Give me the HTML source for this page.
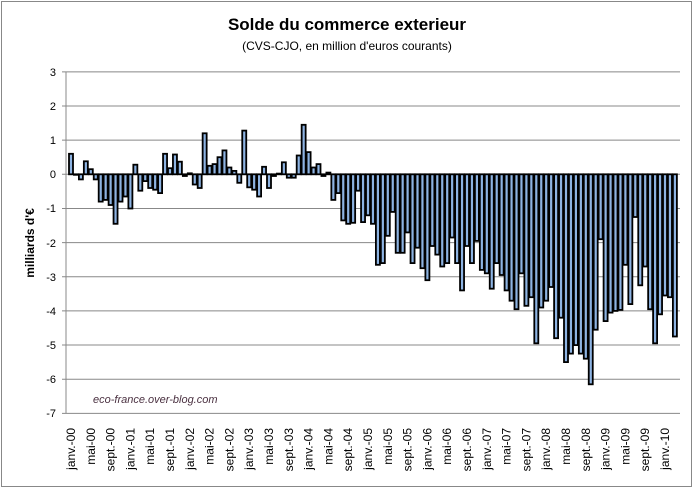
<!DOCTYPE html>
<html><head><meta charset="utf-8"><style>body{margin:0;background:#fff}svg{display:block}</style></head><body>
<svg width="694" height="489" xmlns="http://www.w3.org/2000/svg" font-family="Liberation Sans, sans-serif">
<rect x="1.5" y="1.5" width="690" height="485" fill="#fff" stroke="#888" stroke-width="1"/>
<text x="347" y="30" text-anchor="middle" font-size="17" font-weight="bold">Solde du commerce exterieur</text>
<text x="347" y="50" text-anchor="middle" font-size="12">(CVS-CJO, en million d'euros courants)</text>
<text transform="translate(34,243) rotate(-90)" text-anchor="middle" font-size="12" font-weight="bold">milliards d'€</text>
<g stroke="#888" stroke-width="1">
<line x1="62" x2="680" y1="71.85" y2="71.85"/><line x1="62" x2="680" y1="106" y2="106"/><line x1="62" x2="680" y1="140.15" y2="140.15"/><line x1="62" x2="680" y1="174.3" y2="174.3"/><line x1="62" x2="680" y1="208.45" y2="208.45"/><line x1="62" x2="680" y1="242.6" y2="242.6"/><line x1="62" x2="680" y1="276.75" y2="276.75"/><line x1="62" x2="680" y1="310.9" y2="310.9"/><line x1="62" x2="680" y1="345.05" y2="345.05"/><line x1="62" x2="680" y1="379.2" y2="379.2"/><line x1="62" x2="680" y1="413.35" y2="413.35"/>
<line x1="66" x2="66" y1="71.85" y2="413.35"/>
</g>
<g font-size="11" text-anchor="end">
<text x="56" y="76">3</text><text x="56" y="110">2</text><text x="56" y="144">1</text><text x="56" y="178">0</text><text x="56" y="212">-1</text><text x="56" y="247">-2</text><text x="56" y="281">-3</text><text x="56" y="315">-4</text><text x="56" y="349">-5</text><text x="56" y="383">-6</text><text x="56" y="417">-7</text>
</g>
<g fill="#8db3e2" stroke="#000" stroke-width="1.8">
<rect x="69" y="153.8" width="4" height="20.5"/>
<rect x="73.95" y="174.3" width="4" height="0.5"/>
<rect x="78.9" y="174.3" width="4" height="5.1"/>
<rect x="83.85" y="161.3" width="4" height="13"/>
<rect x="88.8" y="169.2" width="4" height="5.1"/>
<rect x="93.75" y="174.3" width="4" height="5.1"/>
<rect x="98.7" y="174.3" width="4" height="27.3"/>
<rect x="103.65" y="174.3" width="4" height="25.6"/>
<rect x="108.6" y="174.3" width="4" height="30.7"/>
<rect x="113.55" y="174.3" width="4" height="49.5"/>
<rect x="118.5" y="174.3" width="4" height="27.3"/>
<rect x="123.45" y="174.3" width="4" height="22.2"/>
<rect x="128.4" y="174.3" width="4" height="34.2"/>
<rect x="133.35" y="164.7" width="4" height="9.6"/>
<rect x="138.3" y="174.3" width="4" height="16.4"/>
<rect x="143.25" y="174.3" width="4" height="6.8"/>
<rect x="148.2" y="174.3" width="4" height="13.7"/>
<rect x="153.15" y="174.3" width="4" height="15.4"/>
<rect x="158.1" y="174.3" width="4" height="18.8"/>
<rect x="163.05" y="153.8" width="4" height="20.5"/>
<rect x="168" y="168.2" width="4" height="6.1"/>
<rect x="172.95" y="154.5" width="4" height="19.8"/>
<rect x="177.9" y="161.7" width="4" height="12.6"/>
<rect x="182.85" y="174.3" width="4" height="1.7"/>
<rect x="187.8" y="173.3" width="4" height="1"/>
<rect x="192.75" y="174.3" width="4" height="10.2"/>
<rect x="197.7" y="174.3" width="4" height="13.7"/>
<rect x="202.65" y="133.3" width="4" height="41"/>
<rect x="207.6" y="165.8" width="4" height="8.5"/>
<rect x="212.55" y="164.1" width="4" height="10.2"/>
<rect x="217.5" y="157.2" width="4" height="17.1"/>
<rect x="222.45" y="150.4" width="4" height="23.9"/>
<rect x="227.4" y="167.5" width="4" height="6.8"/>
<rect x="232.35" y="170.9" width="4" height="3.4"/>
<rect x="237.3" y="174.3" width="4" height="8.5"/>
<rect x="242.25" y="130.6" width="4" height="43.7"/>
<rect x="247.2" y="174.3" width="4" height="13"/>
<rect x="252.15" y="174.3" width="4" height="15.4"/>
<rect x="257.1" y="174.3" width="4" height="22.2"/>
<rect x="262.05" y="166.8" width="4" height="7.5"/>
<rect x="267" y="174.3" width="4" height="13.7"/>
<rect x="271.95" y="174.3" width="4" height="1.7"/>
<rect x="276.9" y="173.6" width="4" height="0.7"/>
<rect x="281.85" y="162.3" width="4" height="12"/>
<rect x="286.8" y="174.3" width="4" height="3.4"/>
<rect x="291.75" y="174.3" width="4" height="3.4"/>
<rect x="296.7" y="155.5" width="4" height="18.8"/>
<rect x="301.65" y="124.8" width="4" height="49.5"/>
<rect x="306.6" y="152.1" width="4" height="22.2"/>
<rect x="311.55" y="167.5" width="4" height="6.8"/>
<rect x="316.5" y="164.1" width="4" height="10.2"/>
<rect x="321.45" y="174.3" width="4" height="1.7"/>
<rect x="326.4" y="172.6" width="4" height="1.7"/>
<rect x="331.35" y="174.3" width="4" height="25.6"/>
<rect x="336.3" y="174.3" width="4" height="18.8"/>
<rect x="341.25" y="174.3" width="4" height="46.1"/>
<rect x="346.2" y="174.3" width="4" height="49.5"/>
<rect x="351.15" y="174.3" width="4" height="48.5"/>
<rect x="356.1" y="174.3" width="4" height="16.4"/>
<rect x="361.05" y="174.3" width="4" height="47.8"/>
<rect x="366" y="174.3" width="4" height="41"/>
<rect x="370.95" y="174.3" width="4" height="49.5"/>
<rect x="375.9" y="174.3" width="4" height="90.5"/>
<rect x="380.85" y="174.3" width="4" height="88.8"/>
<rect x="385.8" y="174.3" width="4" height="61.5"/>
<rect x="390.75" y="174.3" width="4" height="37.6"/>
<rect x="395.7" y="174.3" width="4" height="78.5"/>
<rect x="400.65" y="174.3" width="4" height="78.5"/>
<rect x="405.6" y="174.3" width="4" height="58.1"/>
<rect x="410.55" y="174.3" width="4" height="88.8"/>
<rect x="415.5" y="174.3" width="4" height="73.4"/>
<rect x="420.45" y="174.3" width="4" height="93.9"/>
<rect x="425.4" y="174.3" width="4" height="105.9"/>
<rect x="430.35" y="174.3" width="4" height="71.7"/>
<rect x="435.3" y="174.3" width="4" height="80.3"/>
<rect x="440.25" y="174.3" width="4" height="92.2"/>
<rect x="445.2" y="174.3" width="4" height="88.8"/>
<rect x="450.15" y="174.3" width="4" height="63.2"/>
<rect x="455.1" y="174.3" width="4" height="88.8"/>
<rect x="460.05" y="174.3" width="4" height="116.1"/>
<rect x="465" y="174.3" width="4" height="71.7"/>
<rect x="469.95" y="174.3" width="4" height="88.8"/>
<rect x="474.9" y="174.3" width="4" height="66.6"/>
<rect x="479.85" y="174.3" width="4" height="95.6"/>
<rect x="484.8" y="174.3" width="4" height="99"/>
<rect x="489.75" y="174.3" width="4" height="114.4"/>
<rect x="494.7" y="174.3" width="4" height="88.8"/>
<rect x="499.65" y="174.3" width="4" height="100.7"/>
<rect x="504.6" y="174.3" width="4" height="116.1"/>
<rect x="509.55" y="174.3" width="4" height="126.4"/>
<rect x="514.5" y="174.3" width="4" height="134.9"/>
<rect x="519.45" y="174.3" width="4" height="99"/>
<rect x="524.4" y="174.3" width="4" height="131.5"/>
<rect x="529.35" y="174.3" width="4" height="122.9"/>
<rect x="534.3" y="174.3" width="4" height="169"/>
<rect x="539.25" y="174.3" width="4" height="133.2"/>
<rect x="544.2" y="174.3" width="4" height="126.4"/>
<rect x="549.15" y="174.3" width="4" height="112.7"/>
<rect x="554.1" y="174.3" width="4" height="163.9"/>
<rect x="559.05" y="174.3" width="4" height="143.4"/>
<rect x="564" y="174.3" width="4" height="187.8"/>
<rect x="568.95" y="174.3" width="4" height="179.3"/>
<rect x="573.9" y="174.3" width="4" height="170.8"/>
<rect x="578.85" y="174.3" width="4" height="179.3"/>
<rect x="583.8" y="174.3" width="4" height="184.4"/>
<rect x="588.75" y="174.3" width="4" height="210"/>
<rect x="593.7" y="174.3" width="4" height="155.4"/>
<rect x="598.65" y="174.3" width="4" height="64.9"/>
<rect x="603.6" y="174.3" width="4" height="146.8"/>
<rect x="608.55" y="174.3" width="4" height="138.3"/>
<rect x="613.5" y="174.3" width="4" height="136.6"/>
<rect x="618.45" y="174.3" width="4" height="135.6"/>
<rect x="623.4" y="174.3" width="4" height="90.5"/>
<rect x="628.35" y="174.3" width="4" height="129.8"/>
<rect x="633.3" y="174.3" width="4" height="42.7"/>
<rect x="638.25" y="174.3" width="4" height="111"/>
<rect x="643.2" y="174.3" width="4" height="92.2"/>
<rect x="648.15" y="174.3" width="4" height="134.9"/>
<rect x="653.1" y="174.3" width="4" height="169"/>
<rect x="658.05" y="174.3" width="4" height="140"/>
<rect x="663" y="174.3" width="4" height="121.2"/>
<rect x="667.95" y="174.3" width="4" height="122.9"/>
<rect x="672.9" y="174.3" width="4" height="162.2"/>
</g>
<g font-size="12" text-anchor="end">
<text transform="translate(75,428) rotate(-90)">janv.-00</text>
<text transform="translate(94.8,428) rotate(-90)">mai-00</text>
<text transform="translate(114.6,428) rotate(-90)">sept.-00</text>
<text transform="translate(134.4,428) rotate(-90)">janv.-01</text>
<text transform="translate(154.2,428) rotate(-90)">mai-01</text>
<text transform="translate(174,428) rotate(-90)">sept.-01</text>
<text transform="translate(193.8,428) rotate(-90)">janv.-02</text>
<text transform="translate(213.6,428) rotate(-90)">mai-02</text>
<text transform="translate(233.4,428) rotate(-90)">sept.-02</text>
<text transform="translate(253.2,428) rotate(-90)">janv.-03</text>
<text transform="translate(273,428) rotate(-90)">mai-03</text>
<text transform="translate(292.8,428) rotate(-90)">sept.-03</text>
<text transform="translate(312.6,428) rotate(-90)">janv.-04</text>
<text transform="translate(332.4,428) rotate(-90)">mai-04</text>
<text transform="translate(352.2,428) rotate(-90)">sept.-04</text>
<text transform="translate(372,428) rotate(-90)">janv.-05</text>
<text transform="translate(391.8,428) rotate(-90)">mai-05</text>
<text transform="translate(411.6,428) rotate(-90)">sept.-05</text>
<text transform="translate(431.4,428) rotate(-90)">janv.-06</text>
<text transform="translate(451.2,428) rotate(-90)">mai-06</text>
<text transform="translate(471,428) rotate(-90)">sept.-06</text>
<text transform="translate(490.8,428) rotate(-90)">janv.-07</text>
<text transform="translate(510.6,428) rotate(-90)">mai-07</text>
<text transform="translate(530.4,428) rotate(-90)">sept.-07</text>
<text transform="translate(550.2,428) rotate(-90)">janv.-08</text>
<text transform="translate(570,428) rotate(-90)">mai-08</text>
<text transform="translate(589.8,428) rotate(-90)">sept.-08</text>
<text transform="translate(609.6,428) rotate(-90)">janv.-09</text>
<text transform="translate(629.4,428) rotate(-90)">mai-09</text>
<text transform="translate(649.2,428) rotate(-90)">sept.-09</text>
<text transform="translate(669,428) rotate(-90)">janv.-10</text>
</g>
<text x="93" y="403" font-size="11" font-style="italic" fill="#4a3040">eco-france.over-blog.com</text>
</svg>
</body></html>
